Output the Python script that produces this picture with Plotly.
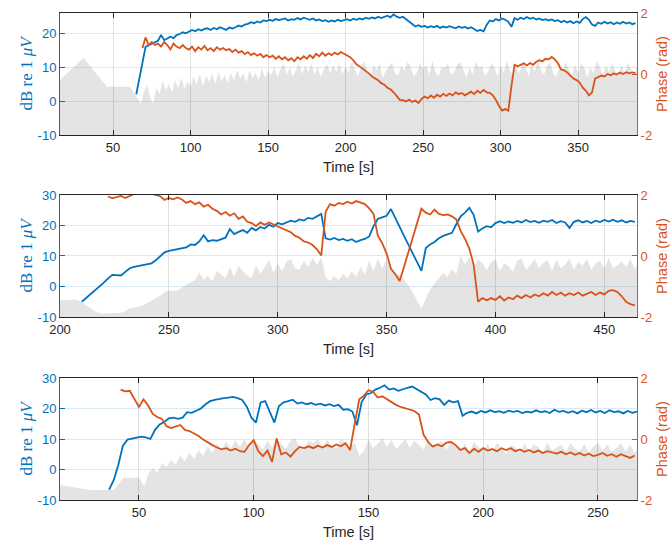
import numpy as np
import plotly.graph_objects as go

BLUE = "#0072BD"
ORANGE = "#D95319"
STEP = 2

# ---------------- Panel 1 ----------------
p1_blue_start = 65
p1_blue = [2, 7, 11.5, 16, 16.5, 17, 17.5, 17.8, 19.5, 18, 18.5, 19, 18.6, 19.5, 19.8, 20.3, 20.0, 20.5,
           21, 20.6, 21.2, 20.8, 21.3, 21.5, 21.0, 21.6, 21.2, 21.8, 21.5, 21.0, 21.7, 21.4, 21.8, 22.3,
           22.0, 22.6, 22.8, 23.3, 23.0, 23.5, 23.2, 23.8, 23.6, 24.0, 23.7, 24.2, 23.9, 24.1, 24.4, 23.8,
           24.2, 24.0, 24.5, 24.1, 24.6, 24.3, 24.0, 24.4, 23.8, 24.1, 23.6, 23.9, 23.4, 23.8, 23.5, 24.0,
           23.6, 23.9, 24.2, 23.8, 24.3, 24.0, 24.4, 24.1, 24.6, 24.3, 24.7, 24.4, 24.9, 24.5, 24.8, 25.2,
           24.7, 25.6, 24.9, 24.6, 24.9, 24.2, 23.4, 22.8, 22.0, 22.4, 21.9, 22.2, 21.7, 22.1, 21.8, 22.2,
           21.6, 22.0, 21.7, 22.1, 21.8, 21.5, 22.0, 21.6, 21.9, 21.4, 21.8, 21.2, 20.7, 21.0, 20.6, 22.5,
           23.8, 23.5, 24.2, 23.8, 24.4, 24.0, 23.4, 21.9, 24.5, 24.0, 24.6, 24.2, 24.8, 24.3, 24.6, 24.1,
           24.4, 23.9, 24.2, 23.8, 24.1, 23.6, 23.9, 23.3, 23.7, 23.2, 23.6, 23.0, 23.5, 23.1, 24.2, 24.8,
           24.0, 22.6, 22.2, 23.2, 22.8, 23.4, 22.9, 23.3, 22.7, 23.2, 22.8, 23.4, 22.9, 23.2, 22.7, 23.0]
p1_phase_start = 69
p1_phase = [0.85, 1.2, 0.95, 1.05, 0.95, 1.0, 0.9, 1.05, 0.95, 0.8, 1.0, 0.9, 0.85, 0.95, 0.85, 0.8,
            0.9, 0.75, 0.88, 0.8, 0.92, 0.78, 0.85, 0.75, 0.88, 0.8, 0.85, 0.78, 0.82, 0.72, 0.8, 0.7,
            0.75, 0.65, 0.72, 0.62, 0.68, 0.6, 0.66, 0.55, 0.62, 0.55, 0.6, 0.5, 0.58, 0.48, 0.55, 0.45,
            0.52, 0.42, 0.55, 0.48, 0.58, 0.5, 0.62, 0.52, 0.66, 0.58, 0.7, 0.6, 0.68, 0.62, 0.7, 0.64,
            0.72, 0.66, 0.6, 0.55, 0.45, 0.32, 0.25, 0.18, 0.1, 0.02, -0.08, -0.15, -0.2, -0.3, -0.35,
            -0.45, -0.5, -0.6, -0.72, -0.85, -0.86, -0.9, -0.84, -0.92, -0.87, -0.95, -0.82, -0.74, -0.8,
            -0.7, -0.78, -0.68, -0.74, -0.65, -0.72, -0.64, -0.7, -0.6, -0.66, -0.62, -0.7, -0.65, -0.58,
            -0.66, -0.55, -0.62, -0.52, -0.6, -0.62, -0.7, -0.85, -1.05, -1.2, -1.15, -1.2, -0.4, 0.3,
            0.25, 0.3, 0.35, 0.28, 0.36, 0.3, 0.4, 0.45, 0.42, 0.5, 0.48, 0.56, 0.48, 0.35, 0.15, 0.12,
            0.05, -0.05, -0.15, -0.2, -0.28, -0.45, -0.55, -0.7, -0.6, -0.15, -0.1, -0.05, -0.08, 0.0,
            -0.04, 0.02, -0.02, 0.05, 0.0, 0.06, 0.02, 0.05, 0.03]
p1_floor_head_t = [15.8, 31, 46, 61, 68]
p1_floor_head = [6.2, 12.8, 4.2, 4.2, -0.8]
p1_floor_start = 70
p1_floor = [3.0, 4.8, 1.0, -0.8, 4.0, 2.0, 6.0, 3.2, 5.0, 2.5, 6.2, 3.8, 7.0, 3.6, 6.0, 4.2,
            7.2, 5.0, 8.0, 4.4, 7.4, 5.6, 8.2, 5.0, 8.6, 5.8, 7.6, 5.2, 8.4, 6.0, 9.2, 6.6, 8.2, 5.6,
            9.0, 6.8, 8.4, 6.2, 9.8, 7.0, 9.0,
            7.6, 10.2, 7.0, 9.4, 11.0, 7.8, 10.0, 7.2, 9.2, 11.2, 8.0, 10.4, 8.6, 11.0, 7.8, 10.2, 7.2,
            9.4, 11.0, 8.2, 10.6, 8.6, 11.2, 8.0, 10.2,
            8.4, 11.5, 9.6, 7.2, 10.2, 11.8, 8.8, 7.0, 10.6, 9.2, 11.0, 6.8, 9.0, 10.4, 11.4, 8.0, 7.6,
            10.4, 9.0, 11.6, 10.2, 7.2, 8.4, 11.2, 9.4, 10.6, 7.8, 11.8, 8.6, 7.4, 10.2, 9.8, 11.0, 7.8,
            8.4, 10.8, 11.6, 9.2, 7.0, 10.0, 8.0, 11.6, 9.6, 10.4, 7.4, 8.8, 11.2, 10.0, 7.2, 10.6, 8.4,
            11.8, 9.0, 7.8, 10.0, 8.2, 11.0, 10.4, 7.4, 10.8, 8.6, 12.0, 9.2, 7.8, 10.4, 11.4, 8.0, 7.2,
            10.2, 8.8, 11.6, 9.4, 7.6, 10.6, 8.4, 11.0, 9.8, 7.0, 10.0, 8.2, 11.8, 10.2, 7.8, 10.4, 8.6,
            11.2, 9.0, 7.4, 10.8, 8.0, 11.4, 9.6, 7.6, 10.2, 8.8, 11.6, 9.0]

# ---------------- Panel 2 ----------------
p2_blue_start = 210
p2_blue = [-5.0, -3.8, -2.6, -1.4, 0.0, 1.2, 2.6, 3.8, 3.7, 3.6, 4.8, 6.0, 6.4, 6.7, 7.0, 7.2, 7.6,
           8.6, 10.0, 11.2, 11.7, 12.0, 12.3, 12.4, 12.8, 13.8, 13.6, 14.8, 16.8, 14.8, 15.2, 15.0, 15.6,
           16.0, 18.8, 17.2, 17.9, 18.5, 17.6, 19.2, 18.4, 19.5, 19.0, 20.2, 19.6, 20.8, 20.4, 21.0, 21.6,
           21.2, 22.0, 21.6, 22.5, 22.2, 23.0, 23.8, 15.8, 15.4, 15.9, 15.2, 15.6, 15.0, 15.5, 14.6, 15.2,
           15.6, 16.4, 19.8, 22.2, 22.6, 23.2, 25.4, 22.3, 19.4, 16.6, 13.7, 10.8, 8.0, 5.1, 12.6, 13.8,
           14.6, 15.8, 16.6, 17.2, 17.6, 20.4, 23.0, 24.2, 25.8, 23.4, 18.0, 19.0, 19.8, 19.4, 20.8, 21.4,
           20.8, 21.3, 20.9, 21.5, 21.0, 21.8, 21.1, 21.5, 20.9, 21.6, 21.2, 21.8, 20.8, 21.4, 21.0, 19.2,
           21.2, 21.7, 21.0, 21.5, 20.8, 21.6, 21.1, 21.8, 21.3, 21.9, 21.2, 21.7, 21.0, 21.5, 21.2]
p2_phase_start = 222
p2_phase = [1.95, 1.9, 1.93, 1.97, 1.9, 1.96, 2.05, 2.1, 2.06, 2.1, 2.04, 1.99, 1.96, 1.84, 1.9, 1.86,
            1.92, 1.85, 1.74, 1.8, 1.7, 1.76, 1.62, 1.68, 1.55, 1.48, 1.36, 1.44, 1.32, 1.4, 1.22, 1.3,
            1.12, 1.08, 0.98, 1.1, 1.02, 1.1, 1.04, 0.96, 0.9, 0.84, 0.78, 0.66, 0.6, 0.48, 0.44, 0.36,
            0.22, 0.02, 1.45, 1.7, 1.65, 1.74, 1.7, 1.78, 1.72, 1.8, 1.74, 1.7, 1.56, 1.38, 0.66, 0.42,
            0.08, -0.42, -0.6, -0.82, -0.35, 0.12, 0.6, 1.07, 1.55, 1.42, 1.36, 1.52, 1.38, 1.34, 1.36,
            1.3, 1.2, 0.82, 0.56, 0.24, -0.3, -1.5, -1.38, -1.45, -1.38, -1.44, -1.32, -1.46, -1.36, -1.42,
            -1.3, -1.38, -1.28, -1.36, -1.26, -1.32, -1.22, -1.3, -1.18, -1.28, -1.2, -1.3, -1.22, -1.28,
            -1.2, -1.3, -1.24, -1.18, -1.28, -1.2, -1.26, -1.14, -1.12, -1.18, -1.32, -1.5, -1.58, -1.62]
p2_floor_start = 200
p2_floor = [-4.5, -4.4, -4.5, -4.3, -4.4, -5.2, -6.2, -7.2, -8.0, -8.7, -8.9, -8.8, -8.8, -8.7, -8.6,
            -8.0, -7.2, -7.0, -6.6, -6.2, -5.4, -4.6, -3.8, -3.0, -1.8, -1.2, -1.6, -1.2, -0.3, 0.5, 1.5,
            2.0, 4.6, 2.2, 3.4, 1.8, 5.2, 4.0, 2.6, 6.5, 3.0, 6.8, 5.0, 3.6, 2.8, 7.0, 4.2, 6.2, 8.8, 4.5,
            7.5, 5.0, 8.2, 9.0, 6.0, 5.5, 8.5, 6.5, 9.4, 7.0, 9.5, 3.0, 1.8, 3.4, 2.0, 4.2, 2.5, 5.0, 3.0,
            6.5, 3.8, 8.5, 5.0, 9.2, 6.0, 8.8, 5.5, 4.0, 3.8, 2.2, 0.4, -2.0, -4.5, -7.2, -4.0, -1.0, 1.0,
            2.6, 4.5, 3.0, 5.8, 4.0, 10.2, 7.0, 9.5,
            6.5, 8.8, 7.6, 5.5, 8.0, 9.0, 5.0, 7.5, 6.8, 4.8, 8.5, 9.2, 5.5, 7.0, 9.0, 6.0, 7.8, 8.6, 5.2,
            8.8, 6.0, 7.2, 9.2, 5.6, 8.0, 6.8, 9.0, 5.4, 7.6, 8.4, 6.0, 9.3, 5.8, 7.0, 8.2, 6.4, 9.0, 5.6,
            8.6, 7.4, 6.2, 9.4, 5.8, 8.0, 6.6, 9.0, 7.2, 6.0, 8.8, 6.4]

# ---------------- Panel 3 ----------------
p3_blue_start = 37
p3_blue = [-6.6, -3.5, 1.5, 7.8, 9.8, 10.2, 10.4, 10.8, 10.5, 10.0, 13.0, 14.8, 15.6, 16.8, 17.0, 16.6,
           17.0, 18.8, 18.6, 19.2, 20.0, 21.4, 22.4, 22.8, 23.2, 23.4, 23.6, 23.8, 23.4, 22.8, 20.6, 17.0,
           15.4, 22.0, 22.4, 18.6, 15.4, 20.8, 22.0, 22.4, 22.9, 21.6, 22.0, 21.4, 21.8, 21.2, 21.6, 21.0,
           21.4, 20.8, 21.2, 19.6, 19.8, 19.0, 14.5, 22.0, 24.6, 25.0, 26.2, 26.8, 27.6, 26.2, 26.6, 25.8,
           26.4, 26.8, 27.2, 26.4, 25.4, 24.6, 22.8, 23.4, 23.0, 21.2, 22.6, 22.0, 22.4, 17.6, 18.6, 19.0,
           18.4, 19.2, 18.7, 19.4, 18.8, 19.1, 18.6, 19.3, 18.9, 19.2, 18.5, 19.0, 18.7, 19.4, 18.8, 19.1,
           18.5, 19.6, 18.9, 19.2, 18.6, 19.1, 18.4, 19.3, 18.8, 19.5, 18.7, 19.2, 18.5, 19.4, 18.8, 19.1,
           18.4, 19.2, 18.6, 19.0]
p3_phase_start = 42
p3_phase = [1.62, 1.56, 1.58, 1.3, 1.05, 1.3, 1.1, 0.82, 0.72, 0.66, 0.42, 0.36, 0.4, 0.46, 0.3, 0.26,
            0.18, 0.1, -0.02, -0.12, -0.2, -0.28, -0.34, -0.3, -0.38, -0.32, -0.4, -0.42, -0.2, -0.04,
            -0.4, -0.56, -0.38, -0.75, 0.02, -0.5, -0.44, -0.58, -0.4, -0.26, -0.3, -0.24, -0.3, -0.22,
            -0.28, -0.2, -0.26, -0.18, -0.24, -0.14, -0.36, 0.5, 1.3, 1.42, 1.6, 1.55, 1.36, 1.4, 1.3,
            1.22, 1.12, 1.05, 1.0, 0.96, 0.92, 0.8, 0.14, -0.1, -0.25, -0.18, -0.24, -0.12, -0.1, -0.2,
            -0.36, -0.3, -0.46, -0.32, -0.42, -0.3, -0.38, -0.33, -0.4, -0.3, -0.36, -0.3, -0.4, -0.34,
            -0.42, -0.36, -0.44, -0.38, -0.46, -0.4, -0.44, -0.48, -0.42, -0.5, -0.44, -0.52, -0.46,
            -0.54, -0.48, -0.56, -0.52, -0.46, -0.55, -0.5, -0.58, -0.5, -0.56, -0.62, -0.54]
p3_floor_head_t = [15.6, 29, 39, 43, 50, 52.4]
p3_floor_head = [-5.1, -6.7, -6.7, -2.9, -2.6, -5.5]
p3_floor_start = 54
p3_floor = [-1.5, 0.4, -1.0, 2.0, 0.8, 3.2, 1.5, 4.5, 2.8, 5.5, 3.5, 6.2, 4.5, 7.6, 5.5, 8.4, 6.5, 9.2,
            7.0, 9.6, 7.5, 10.0, 7.0, 9.8,
            8.2, 6.5, 9.5, 7.2, 10.0, 8.4, 6.8, 9.4, 10.2, 7.5, 7.0, 9.6, 8.6, 10.0, 7.2, 9.8, 7.6, 6.8,
            10.2, 8.8, 7.4, 8.8, 4.5, 6.0, 9.8, 7.0, 8.4, 10.3, 7.5, 9.6, 6.8, 8.2, 10.0, 7.2, 9.4, 8.0,
            6.6, 9.8, 7.0, 8.6, 9.2, 6.5, 9.0, 7.8, 6.2, 8.6, 5.8, 9.0, 7.4, 6.4, 8.4, 5.6, 8.8, 7.0, 5.2,
            8.0, 7.2, 5.5, 8.5, 6.0, 8.2, 7.4, 5.6, 8.8, 6.2, 7.2, 8.0, 5.8, 8.6, 6.8, 6.0, 8.4, 5.6, 7.6,
            8.8, 6.2, 8.2, 5.8, 7.0, 8.6, 6.0, 8.0, 5.4, 7.6, 8.4, 6.2, 8.8, 7.0, 5.8, 8.2]

# Tick labels
x1_ticks = [50, 100, 150, 200, 250, 300, 350]
x2_ticks = [200, 250, 300, 350, 400, 450]
x3_ticks = [50, 100, 150, 200, 250]
db1_ticks = [-10, 0, 10, 20]
db1_labels = ["-10", "0", "10", "20"]
db_ticks = [-10, 0, 10, 20, 30]
db_labels = ["-10", "0", "10", "20", "30"]
ph_ticks = [-2, 0, 2]
ph_labels = ["-2", "0", "2"]

panels = [
    dict(xr=[15.8, 388], yr=[-10, 26], xt=x1_ticks, yt=db1_ticks, yl=db1_labels, dom=[0.7495, 1.0],
         bs=p1_blue_start, b=p1_blue, ps=p1_phase_start, p=p1_phase,
         fht=p1_floor_head_t, fh=p1_floor_head, fs=p1_floor_start, f=p1_floor),
    dict(xr=[200, 465], yr=[-10, 30], xt=x2_ticks, yt=db_ticks, yl=db_labels, dom=[0.3758, 0.6263],
         bs=p2_blue_start, b=p2_blue, ps=p2_phase_start, p=p2_phase,
         fht=[], fh=[], fs=p2_floor_start, f=p2_floor),
    dict(xr=[15.6, 267], yr=[-10, 30], xt=x3_ticks, yt=db_ticks, yl=db_labels, dom=[0.0, 0.2505],
         bs=p3_blue_start, b=p3_blue, ps=p3_phase_start, p=p3_phase,
         fht=p3_floor_head_t, fh=p3_floor_head, fs=p3_floor_start, f=p3_floor),
]

fig = go.Figure()
TICKFONT = "Liberation Sans, Arial, sans-serif"
layout = dict(
    width=670, height=544,
    margin=dict(l=60, r=33, t=13, b=44, autoexpand=False),
    paper_bgcolor="white", plot_bgcolor="white",
    showlegend=False,
    font=dict(family=TICKFONT, size=13, color="#262626"),
)

for i, P in enumerate(panels):
    k = i + 1
    xa = "x" if k == 1 else f"x{k}"
    ya_l = "y" if k == 1 else f"y{2 * k - 1}"
    ya_r = f"y{2 * k}"
    ymin = P["yr"][0]

    ft = np.concatenate([np.array(P["fht"], dtype=float),
                         P["fs"] + STEP * np.arange(len(P["f"]))])
    fv = np.concatenate([np.array(P["fh"], dtype=float), np.array(P["f"], dtype=float)])
    poly_x = np.concatenate([[ft[0]], ft, [ft[-1]]])
    poly_y = np.concatenate([[ymin], fv, [ymin]])
    fig.add_trace(go.Scatter(x=poly_x, y=poly_y, xaxis=xa, yaxis=ya_l, mode="lines",
                             fill="toself", fillcolor="rgba(0,0,0,0.105)",
                             line=dict(width=0, color="rgba(0,0,0,0)"), hoverinfo="skip"))

    bt = P["bs"] + STEP * np.arange(len(P["b"]))
    fig.add_trace(go.Scatter(x=bt, y=P["b"], xaxis=xa, yaxis=ya_l, mode="lines",
                             line=dict(color=BLUE, width=1.8)))
    pt = P["ps"] + STEP * np.arange(len(P["p"]))
    fig.add_trace(go.Scatter(x=pt, y=P["p"], xaxis=xa, yaxis=ya_r, mode="lines",
                             line=dict(color=ORANGE, width=1.8)))

    xkey = "xaxis" if k == 1 else f"xaxis{k}"
    ylkey = "yaxis" if k == 1 else f"yaxis{2 * k - 1}"
    yrkey = f"yaxis{2 * k}"
    layout[xkey] = dict(
        domain=[0, 1], anchor=ya_l, range=P["xr"], tickvals=P["xt"], automargin=False,
        ticks="inside", ticklen=5, tickcolor="#262626", showline=True, linecolor="#262626",
        linewidth=1, mirror="ticks", showgrid=True, gridcolor="rgb(223,223,223)", gridwidth=1,
        zeroline=False, tickfont=dict(size=13, color="#262626", family=TICKFONT),
        title=dict(text="Time [s]", font=dict(size=14.5, color="#262626", family=TICKFONT), standoff=8),
    )
    layout[ylkey] = dict(
        domain=P["dom"], anchor=xa, range=P["yr"], tickvals=P["yt"], ticktext=P["yl"],
        automargin=False,
        ticks="inside", ticklen=5, tickcolor=BLUE, showline=True, linecolor=BLUE, linewidth=1,
        showgrid=True, gridcolor="rgb(218,234,245)", gridwidth=1, zeroline=False,
        tickfont=dict(size=13, color=BLUE, family=TICKFONT),
        title=dict(text="dB re 1 <i>μV</i>", font=dict(size=17, color=BLUE,
                   family="Liberation Serif, Times New Roman, serif"), standoff=0),
    )
    layout[yrkey] = dict(
        domain=P["dom"], anchor=xa, overlaying=ya_l, side="right", range=[-2, 2],
        tickvals=ph_ticks, ticktext=ph_labels, automargin=False,
        ticks="inside", ticklen=5, tickcolor=ORANGE, showline=True, linecolor=ORANGE, linewidth=1,
        showgrid=False, zeroline=False,
        tickfont=dict(size=13, color=ORANGE, family=TICKFONT),
        title=dict(text="Phase (rad)", font=dict(size=14.5, color=ORANGE, family=TICKFONT), standoff=12),
    )

fig.update_layout(**layout)
fig.write_html("out.html")
